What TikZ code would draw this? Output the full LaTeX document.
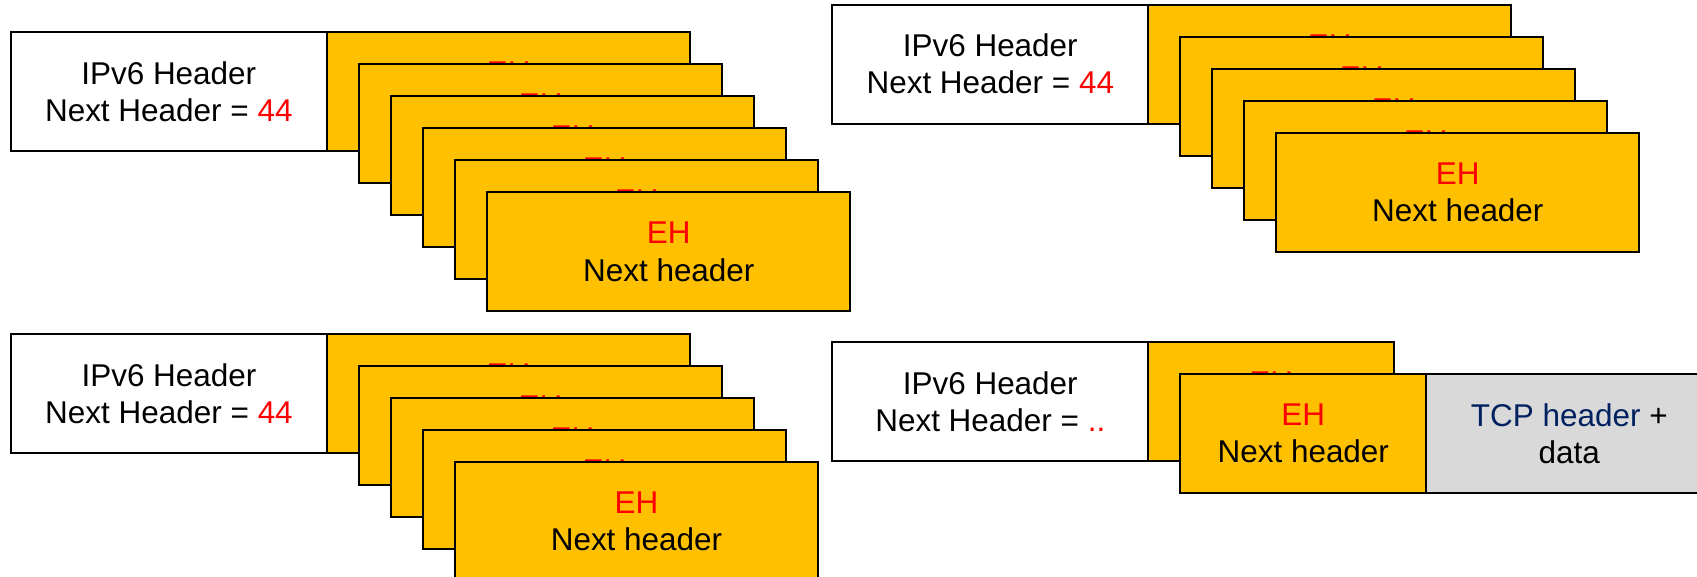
\documentclass[tikz,border=0pt]{standalone}
\usepackage{fontspec}
\setmainfont{Liberation Sans}
\usetikzlibrary{positioning}
\definecolor{ehgold}{HTML}{FFC000}
\definecolor{ehred}{HTML}{FF0000}
\definecolor{tcpgrey}{HTML}{D9D9D9}
\definecolor{tcpblue}{HTML}{002060}

\begin{document}
\begin{tikzpicture}[x=0.75pt,y=-0.75pt,
    every node/.style={font=\fontsize{23.6}{27.8}\selectfont,align=center,inner sep=0pt,outer sep=0pt},
    hdrbox/.style={draw,line width=1.5pt,fill=white,minimum width=237pt,minimum height=89.25pt,anchor=north west},
    ehbox/.style={draw,line width=1.5pt,fill=ehgold,minimum width=272.25pt,minimum height=89.25pt,anchor=north west},
    ehnarrow/.style={ehbox,minimum width=184.5pt},
    tcpbox/.style={draw,line width=1.5pt,fill=tcpgrey,minimum width=214.5pt,minimum height=89.25pt}]
    \path[use as bounding box,clip] (0,0) rectangle (1697,577);

    \node[hdrbox] (tlip) at (10.8,32.3) {IPv6 Header\\Next Header = \textcolor{ehred}{44}};
    \foreach \i in {0,...,5}
      \node[ehbox] (tleh\i) at (327.3+\i*32,32.3+\i*32) {\textcolor{ehred}{EH}\\Next header};

    \node[hdrbox] (trip) at (832.3,4.7) {IPv6 Header\\Next Header = \textcolor{ehred}{44}};
    \foreach \i in {0,...,4}
      \node[ehbox] (treh\i) at (1148.3+\i*32,4.7+\i*32) {\textcolor{ehred}{EH}\\Next header};

    \node[hdrbox] (blip) at (11,334) {IPv6 Header\\Next Header = \textcolor{ehred}{44}};
    \foreach \i in {0,...,4}
      \node[ehbox] (bleh\i) at (327+\i*32,334+\i*32) {\textcolor{ehred}{EH}\\Next header};

    \node[hdrbox] (brip) at (832.3,342) {IPv6 Header\\Next Header = \textcolor{ehred}{..}};
    \node[ehnarrow] (breh0) at (brip.north east) {\textcolor{ehred}{EH}\\Next header};
    \node[ehnarrow] (breh1) at (1180.3,374) {\textcolor{ehred}{EH}\\Next header};
    \node[tcpbox,right=0pt of breh1] (brtcp) {\textcolor{tcpblue}{TCP header} +\\data};
  \end{tikzpicture}
\end{document}
